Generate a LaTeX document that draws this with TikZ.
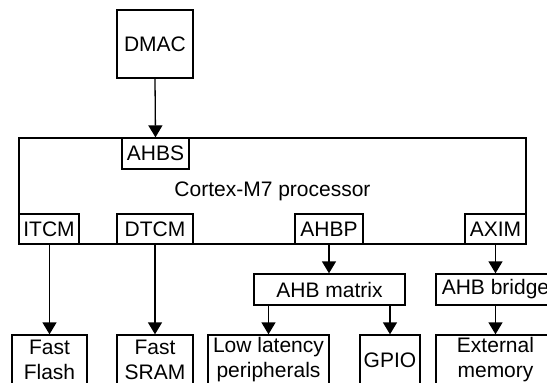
\documentclass[tikz,border=0pt]{standalone}
\usepackage{fontspec}
\setmainfont{Liberation Sans}
\usetikzlibrary{arrows.meta}
\begin{document}
\begin{tikzpicture}[x=1pt,y=-1pt,
  every node/.style={font=\fontsize{21}{25}\selectfont, inner sep=0pt},
  blk/.style={draw, line width=1.3pt, align=center},
  arr/.style={line width=1.3pt, -{Triangle[length=12pt,width=14pt]}}]
\useasboundingbox (0,0) rectangle (547,383);
\clip (0,0) rectangle (547,383);
\node[blk, minimum width=507pt, minimum height=106pt] (proc) at (272.5,191) {Cortex-M7 processor};
\node[blk, fill=white, minimum width=76pt, minimum height=68pt] (dmac) at (155,44) {DMAC};
\node[blk, fill=white, minimum width=67pt, minimum height=31pt] (ahbs) at (155.5,153.5) {AHBS};
\node[blk, fill=white, minimum width=60pt, minimum height=30pt] (itcm) at (49,229) {ITCM};
\node[blk, fill=white, minimum width=76pt, minimum height=30pt] (dtcm) at (155,229) {DTCM};
\node[blk, fill=white, minimum width=68pt, minimum height=30pt] (ahbp) at (329,229) {AHBP};
\node[blk, fill=white, minimum width=61pt, minimum height=30pt] (axim) at (495.5,229) {AXIM};
\node[blk, minimum width=151pt, minimum height=31pt] (matrix) at (329.5,289.5) {AHB matrix};
\node[blk, minimum width=119pt, minimum height=31pt] (bridge) at (495.5,289.5) {AHB bridge};
\node[blk, minimum width=75pt, minimum height=50pt] (flash) at (49.5,360) {Fast\\Flash};
\node[blk, minimum width=76pt, minimum height=50pt] (sram) at (155,360) {Fast\\SRAM};
\node[blk, minimum width=121pt, minimum height=50pt] (lowlat) at (268.5,360) {Low latency\\peripherals};
\node[blk, minimum width=60pt, minimum height=50pt] (gpio) at (390,360) {GPIO};
\node[blk, minimum width=119pt, minimum height=50pt] (ext) at (495.5,360) {External\\memory};
\draw[arr] (dmac.south) -- (ahbs.north);
\draw[arr] (itcm.south -| flash.north) -- (flash.north);
\draw[arr] (dtcm.south) -- (sram.north);
\draw[arr] (ahbp.south) -- (ahbp.south |- matrix.north);
\draw[arr] (axim.south) -- (bridge.north);
\draw[arr] (lowlat.north |- matrix.south) -- (lowlat.north);
\draw[arr] (gpio.north |- matrix.south) -- (gpio.north);
\draw[arr] (bridge.south) -- (ext.north);
\end{tikzpicture}
\end{document}
